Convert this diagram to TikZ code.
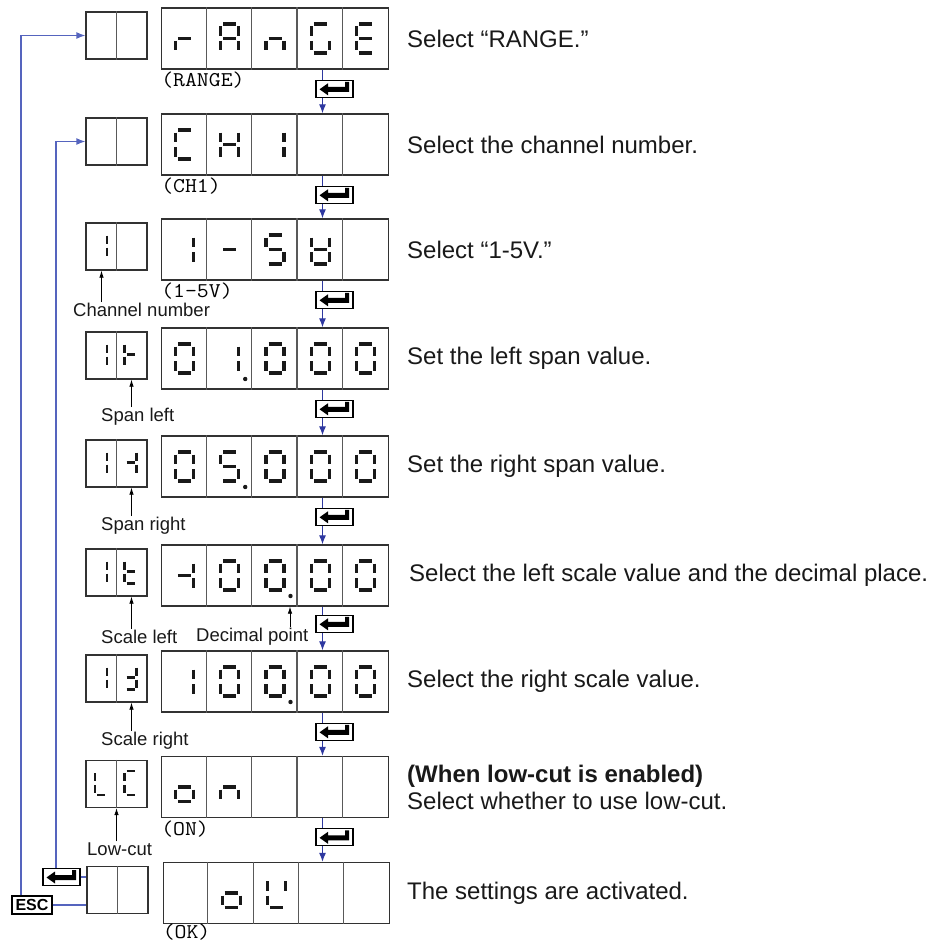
\documentclass[tikz,border=0pt]{standalone}
\usepackage{fontspec}
\setmainfont{Liberation Sans}
\usetikzlibrary{positioning, arrows.meta, calc}
\definecolor{flowblue}{RGB}{46,56,160}
\definecolor{backblue}{RGB}{85,100,190}
\definecolor{framegray}{RGB}{50,50,50}

\tikzset{
  lcdbox/.style={draw=framegray, line width=1.3pt, fill=white, minimum width=226.6pt, minimum height=61pt, inner sep=0pt},
  smallbox/.style={draw=framegray, line width=1.3pt, fill=white, minimum width=61pt, minimum height=47pt, inner sep=0pt},
  cellline/.style={draw=black!65, line width=1.1pt},
  seg/.style={line width=3.2pt, black!90},
  keybox/.style={draw=black, line width=1.3pt, fill=white, minimum width=37pt, minimum height=17pt, inner sep=0pt},
  esckey/.style={draw=black, line width=1.3pt, fill=white, minimum width=40pt, minimum height=18pt, inner sep=0pt, font=\bfseries\fontsize{16}{16}\selectfont},
  flowline/.style={draw=flowblue, line width=1.1pt},
  backline/.style={draw=backblue, line width=1.3pt},
  flowtip/.style={-{Latex[length=9pt,width=7pt]}},
  pointer/.style={draw=black, line width=0.8pt, -{Latex[length=7pt,width=4.5pt]}},
  desc/.style={anchor=west, inner sep=0pt, text=black!90, font=\fontsize{24}{27}\selectfont},
  lab/.style={anchor=west, inner sep=1pt, text=black!90, font=\fontsize{18.5}{20}\selectfont},
  tag/.style={anchor=west, inner sep=0pt, xscale=1.1, font=\ttfamily\fontsize{21}{23}\selectfont}
}

% seven segment digits
\def\segw{9}\def\segh{14.5}\def\seggap{2.5}
\newcommand{\segline}[4]{\draw[seg] ({\lcdx+(#1)},{\lcdy+(#2)}) -- ({\lcdx+(#3)},{\lcdy+(#4)});}
\def\sega{\segline{-\segw+\seggap}{-\segh}{\segw-\seggap}{-\segh}}
\def\segb{\segline{\segw}{-\segh+\seggap}{\segw}{-\seggap}}
\def\segc{\segline{\segw}{\seggap}{\segw}{\segh-\seggap}}
\def\segd{\segline{-\segw+\seggap}{\segh}{\segw-\seggap}{\segh}}
\def\sege{\segline{-\segw}{\seggap}{-\segw}{\segh-\seggap}}
\def\segf{\segline{-\segw}{-\segh+\seggap}{-\segw}{-\seggap}}
\def\segg{\segline{-\segw+\seggap}{0}{\segw-\seggap}{0}}
\def\segz{}
\def\zero{a,b,c,d,e,f}
\newcommand{\lcd}[3]{\pgfmathsetmacro\lcdx{#1}\pgfmathsetmacro\lcdy{#2}\edef\lcdsegs{#3}\foreach \s in \lcdsegs {\csname seg\s\endcsname}}

\begin{document}
\begin{tikzpicture}[x=1pt, y=-1pt]
		\useasboundingbox (0,0) rectangle (931,942);
		
		% display rows
		\node[lcdbox] (m1) at (275,38.5) {};
		\node[smallbox] (s1) at (116.5,35.5) {};
		\node[desc] (t1) at (407,38.5) {Select “RANGE.”};
		
		\node[lcdbox] (m2) at (275,144.5) {};
		\node[smallbox] (s2) at (116.5,141.5) {};
		\node[desc] (t2) at (407,144.5) {Select the channel number.};
		
		\node[lcdbox] (m3) at (275,249.5) {};
		\node[smallbox] (s3) at (116.5,246.5) {};
		\node[desc] (t3) at (407,249.5) {Select “1-5V.”};
		
		\node[lcdbox] (m4) at (275,358.5) {};
		\node[smallbox] (s4) at (116.5,355.5) {};
		\node[desc] (t4) at (407,358.5) {Set the left span value.};
		
		\node[lcdbox] (m5) at (275,466.5) {};
		\node[smallbox] (s5) at (116.5,463.5) {};
		\node[desc] (t5) at (407,466.5) {Set the right span value.};
		
		\node[lcdbox] (m6) at (275,575.5) {};
		\node[smallbox] (s6) at (116.5,572.5) {};
		\node[desc] (t6) at (409,575.5) {Select the left scale value and the decimal place.};
		
		\node[lcdbox] (m7) at (275,681.5) {};
		\node[smallbox] (s7) at (116.5,678.5) {};
		\node[desc] (t7) at (407,681.5) {Select the right scale value.};
		
		\node[lcdbox] (m8) at (275,787) {};
		\node[smallbox] (s8) at (116.5,784) {};
		\node[desc, align=left] (t8) at (407,787) {\textbf{(When low-cut is enabled)}\\Select whether to use low-cut.};
		
		\node[lcdbox] (m9) at (276.5,893) {};
		\node[smallbox] (s9) at (117.5,890) {};
		\node[desc] (t9) at (407,893) {The settings are activated.};
		
		% cell dividers
		\foreach \r in {1,...,9} {
			\foreach \k in {1,...,4}
				\draw[cellline] ([xshift=\k*45.32pt]m\r.north west) -- ([xshift=\k*45.32pt]m\r.south west);
			\draw[cellline] (s\r.north) -- (s\r.south);
		}
		
		% names under the displays
		\node[tag] (g1) at ([yshift=-10.5pt]m1.south west) {(RANGE)};
		\node[tag] (g2) at ([yshift=-10.5pt]m2.south west) {(CH1)};
		\node[tag] (g3) at ([yshift=-10pt]m3.south west) {(1-5V)};
		\node[tag] (g8) at ([yshift=-10.5pt]m8.south west) {(ON)};
		\node[tag] (g9) at ([yshift=-7.5pt]m9.south west) {(OK)};
		
		% main digits
		\foreach \segs [count=\j] in {{e,g},{a,b,c,e,f,g},{c,e,g},{a,c,d,e,f},{a,d,e,f,g}}
			{\lcd{184.4+45.32*(\j-1)}{38.5}{\segs}}
		\foreach \segs [count=\j] in {{a,d,e,f},{b,c,e,f,g},{b,c}}
			{\lcd{184.4+45.32*(\j-1)}{144.5}{\segs}}
		\foreach \segs [count=\j] in {{b,c},{g},{a,c,d,f,g},{b,c,d,e,f,g}}
			{\lcd{184.4+45.32*(\j-1)}{249.5}{\segs}}
		\foreach \segs [count=\j] in {{\zero},{b,c},{\zero},{\zero},{\zero}}
			{\lcd{184.4+45.32*(\j-1)}{358.5}{\segs}}
		\foreach \segs [count=\j] in {{\zero},{a,c,d,f,g},{\zero},{\zero},{\zero}}
			{\lcd{184.4+45.32*(\j-1)}{466.5}{\segs}}
		\foreach \segs [count=\j] in {{b,c,g},{\zero},{\zero},{\zero},{\zero}}
			{\lcd{184.4+45.32*(\j-1)}{575.5}{\segs}}
		\foreach \segs [count=\j] in {{b,c},{\zero},{\zero},{\zero},{\zero}}
			{\lcd{184.4+45.32*(\j-1)}{681.5}{\segs}}
		\foreach \segs [count=\j] in {{c,d,e,g},{c,e,g}}
			{\lcd{184.4+45.32*(\j-1)}{787}{\segs}}
		\foreach \segs [count=\j] in {{z},{c,d,e,g},{b,d,e,f}}
			{\lcd{185.9+45.32*(\j-1)}{893}{\segs}}
		
		% decimal points
		\fill[black!90] (245.2,379) circle (2.2pt);
		\fill[black!90] (245.2,487) circle (2.2pt);
		\fill[black!90] (290.5,596) circle (2.2pt);
		\fill[black!90] (290.5,702) circle (2.2pt);
		
		% small digits
		\def\segw{6}\def\segh{12}\def\seggap{2}
		\tikzset{seg/.style={line width=2.7pt, black!90}}
		\lcd{101}{245.5}{b,c}
		\lcd{101}{354.5}{b,c} \lcd{130.5}{354.5}{e,f,g}
		\lcd{101}{462.5}{b,c} \lcd{130.5}{462.5}{b,c,g}
		\lcd{101}{571.5}{b,c} \lcd{130.5}{571.5}{d,e,f,g}
		\lcd{101}{677.5}{b,c} \lcd{130.5}{677.5}{b,c,d,g}
		\lcd{101}{783}{d,e,f} \lcd{130.5}{783}{a,d,e,f}
		
		% labels with pointers
		\node[lab] (lchan) at (72,310) {Channel number};
		\draw[pointer] ([xshift=-15pt]s3.south |- lchan.north) -- ([xshift=-15pt]s3.south);
		\node[lab] (lspl) at (100,417) {Span left};
		\draw[pointer] ([xshift=15pt]s4.south |- lspl.north) -- ([xshift=15pt]s4.south);
		\node[lab] (lspr) at (100,526) {Span right};
		\draw[pointer] ([xshift=15pt]s5.south |- lspr.north) -- ([xshift=15pt]s5.south);
		\node[lab] (lscl) at (100,637) {Scale left};
		\draw[pointer] ([xshift=15pt]s6.south |- lscl.north) -- ([xshift=15pt]s6.south);
		\node[lab] (ldec) at (195,637) {Decimal point};
		\draw[pointer] ([xshift=15pt]m6.south |- ldec.north) -- ([xshift=15pt]m6.south);
		\node[lab] (lscr) at (100,741) {Scale right};
		\draw[pointer] ([xshift=15pt]s7.south |- lscr.north) -- ([xshift=15pt]s7.south);
		\node[lab] (llow) at (86,849) {Low-cut};
		\draw[pointer] (s8.south |- llow.north) -- (s8.south);
		
		% enter keys
		\node[keybox, below=10pt of m1.south, xshift=59.5pt] (k1) {};
		\node[keybox, below=10pt of m2.south, xshift=59.5pt] (k2) {};
		\node[keybox, below=10pt of m3.south, xshift=59.5pt] (k3) {};
		\node[keybox, below=10pt of m4.south, xshift=59.5pt] (k4) {};
		\node[keybox, below=10pt of m5.south, xshift=59.5pt] (k5) {};
		\node[keybox, below=8pt of m6.south, xshift=59.5pt] (k6) {};
		\node[keybox, below=10pt of m7.south, xshift=59.5pt] (k7) {};
		\node[keybox, below=10pt of m8.south, xshift=59.5pt] (k8) {};
		\node[keybox] (kb) at (61.5,877) {};
		\node[esckey] (esc) at (32,905) {ESC};
		\foreach \k in {k1,k2,k3,k4,k5,k6,k7,k8,kb} {
			\begin{scope}[shift={(\k.center)}]
				\fill (-15,0.5) -- (-6.5,-5.5) -- (-6.5,-2) -- (10.5,-2) -- (10.5,-7) -- (14.5,-7) -- (14.5,3) -- (-6.5,3) -- (-6.5,6.5) -- cycle;
			\end{scope}
		}
		
		% flow
		\foreach \r [evaluate=\r as \n using int(\r+1)] in {1,...,8} {
			\draw[flowline] ([xshift=-12pt]k\r.center |- m\r.south) -- ([xshift=-12pt]k\r.north);
			\draw[flowline, flowtip] ([xshift=-12pt]k\r.south) -- ([xshift=-12pt]k\r.center |- m\n.north);
		}
		\draw[backline, flowtip] ([xshift=-11pt]esc.north) |- (s1.west);
		\draw[backline, flowtip] ([xshift=-5.5pt]kb.north) |- (s2.west);
		\draw[backline] (esc.east) -- (esc.east -| s9.west);
		\draw[backline] (kb.east) -- (kb.east -| s9.west);
\end{tikzpicture}
\end{document}
